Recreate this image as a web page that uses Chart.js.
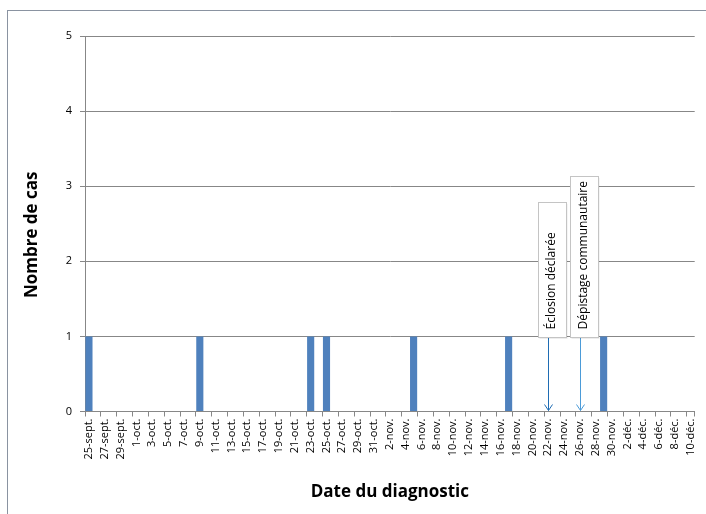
<!DOCTYPE html>
<html lang="fr">
<head>
<meta charset="utf-8">
<script src="https://cdn.jsdelivr.net/npm/chart.js@4.4.1/dist/chart.umd.min.js"></script>
<style>
  html, body { margin: 0; padding: 0; background: #fff; }
  #wrap { position: relative; width: 706px; height: 514px; overflow: hidden; }
  #frame { position: absolute; left: 7px; top: 10px; width: 720px; height: 520px;
           border-left: 1px solid #8a93a1; border-top: 1px solid #8a93a1; }
  #chart { position: absolute; left: 0; top: 0; }
</style>
</head>
<body>
<div id="wrap">
  <div id="frame"></div>
  <canvas id="chart" width="706" height="514"></canvas>
</div>
<script>
// jours du 25 sept. au 10 déc.
const jours = [
  '25-sept.', '26-sept.', '27-sept.', '28-sept.', '29-sept.', '30-sept.',
  '1-oct.', '2-oct.', '3-oct.', '4-oct.', '5-oct.', '6-oct.', '7-oct.', '8-oct.', '9-oct.', '10-oct.',
  '11-oct.', '12-oct.', '13-oct.', '14-oct.', '15-oct.', '16-oct.', '17-oct.', '18-oct.', '19-oct.', '20-oct.',
  '21-oct.', '22-oct.', '23-oct.', '24-oct.', '25-oct.', '26-oct.', '27-oct.', '28-oct.', '29-oct.', '30-oct.', '31-oct.',
  '1-nov.', '2-nov.', '3-nov.', '4-nov.', '5-nov.', '6-nov.', '7-nov.', '8-nov.', '9-nov.', '10-nov.',
  '11-nov.', '12-nov.', '13-nov.', '14-nov.', '15-nov.', '16-nov.', '17-nov.', '18-nov.', '19-nov.', '20-nov.',
  '21-nov.', '22-nov.', '23-nov.', '24-nov.', '25-nov.', '26-nov.', '27-nov.', '28-nov.', '29-nov.', '30-nov.',
  '1-déc.', '2-déc.', '3-déc.', '4-déc.', '5-déc.', '6-déc.', '7-déc.', '8-déc.', '9-déc.', '10-déc.'
];

// nombre de cas par jour
const cas = [
  1, 0, 0, 0, 0, 0,
  0, 0, 0, 0, 0, 0, 0, 0, 1, 0,
  0, 0, 0, 0, 0, 0, 0, 0, 0, 0,
  0, 0, 1, 0, 1, 0, 0, 0, 0, 0, 0,
  0, 0, 0, 0, 1, 0, 0, 0, 0, 0,
  0, 0, 0, 0, 0, 0, 1, 0, 0, 0,
  0, 0, 0, 0, 0, 0, 0, 0, 1, 0,
  0, 0, 0, 0, 0, 0, 0, 0, 0, 0
];

const yTicks = [0, 1, 2, 3, 4, 5];

// événements annotés
const evenementsDates = ['22-nov.', '26-nov.'];
const evenementsTextes = ['Éclosion déclarée', 'Dépistage communautaire'];

const GRIS = '#878787';

// boîtes de texte + flèches
const evenementsPlugin = {
  id: 'evenements',
  afterDatasetsDraw(chart) {
    const ctx = chart.ctx;
    const x = chart.scales.x;
    const y = chart.scales.y;
    const couleurs = ['#1f6cb3', '#4b9bd8'];
    const hauteurs = [135, 161];
    evenementsDates.forEach((d, i) => {
      const px = Math.round(x.getPixelForValue(jours.indexOf(d))) + 0.5;
      const bas = y.getPixelForValue(1) + 1;
      const zero = y.getPixelForValue(0) - 1;
      const cx = px + 3.5;
      const w = 28;
      const h = hauteurs[i];

      ctx.save();
      // flèche
      ctx.strokeStyle = couleurs[i];
      ctx.lineWidth = 1;
      ctx.beginPath();
      ctx.moveTo(px, bas);
      ctx.lineTo(px, zero);
      ctx.moveTo(px - 4, zero - 6);
      ctx.lineTo(px, zero);
      ctx.lineTo(px + 4, zero - 6);
      ctx.stroke();

      // boîte
      ctx.fillStyle = 'rgba(0,0,0,0.08)';
      ctx.fillRect(cx - w / 2 + 1.5, bas - h + 1.5, w, h);
      ctx.fillStyle = '#fff';
      ctx.fillRect(cx - w / 2, bas - h, w, h);
      ctx.strokeStyle = '#c4c4c4';
      ctx.strokeRect(Math.round(cx - w / 2) + 0.5, Math.round(bas - h) + 0.5, w, h);

      // texte
      ctx.translate(cx, bas - 8);
      ctx.rotate(-Math.PI / 2);
      ctx.fillStyle = '#000';
      ctx.font = '12px "Open Sans"';
      ctx.textAlign = 'left';
      ctx.textBaseline = 'middle';
      ctx.fillText(evenementsTextes[i], 0, 0);
      ctx.restore();
    });
  }
};

new Chart(document.getElementById('chart'), {
  type: 'bar',
  data: {
    labels: jours,
    datasets: [{
      data: cas,
      backgroundColor: '#4f81bd',
      borderWidth: 0,
      barPercentage: 0.9,
      categoryPercentage: 1
    }]
  },
  options: {
    responsive: false,
    animation: false,
    events: [],
    layout: { padding: { top: 36, right: 11, left: 0, bottom: 0 } },
    plugins: {
      legend: { display: false },
      tooltip: { enabled: false }
    },
    scales: {
      x: {
        type: 'category',
        offset: true,
        afterFit(scale) { scale.height = 102.5; },
        border: { color: GRIS },
        grid: {
          offset: true,
          drawOnChartArea: false,
          drawTicks: true,
          tickLength: 5,
          color: (c) => (c.index === undefined || c.index % 2 === 0) ? GRIS : 'rgba(0,0,0,0)'
        },
        ticks: {
          autoSkip: false,
          maxRotation: 90,
          minRotation: 90,
          padding: 2,
          color: '#000',
          font: { family: '"Open Sans"', size: 11 },
          callback: (v, i) => (i % 2 === 0 ? jours[i] : '')
        },
        title: {
          display: true,
          text: 'Date du diagnostic',
          color: '#000',
          font: { family: '"Open Sans"', size: 17, weight: 'bold' },
          padding: { top: 0, bottom: 12 }
        }
      },
      y: {
        min: yTicks[0],
        max: yTicks[yTicks.length - 1],
        afterFit(scale) { scale.width = 85; },
        afterBuildTicks(scale) { scale.ticks = yTicks.map(v => ({ value: v })); },
        border: { color: GRIS },
        grid: { color: GRIS, tickLength: 5 },
        ticks: {
          padding: 8,
          color: '#000',
          font: { family: '"Open Sans"', size: 11 }
        },
        title: {
          display: true,
          text: 'Nombre de cas\u00a0\u00a0\u00a0\u00a0\u00a0',
          color: '#000',
          font: { family: '"Open Sans"', size: 17, weight: 'bold' },
          padding: { top: 22, bottom: 0 }
        }
      }
    }
  },
  plugins: [evenementsPlugin]
});
</script>
</body>
</html>
